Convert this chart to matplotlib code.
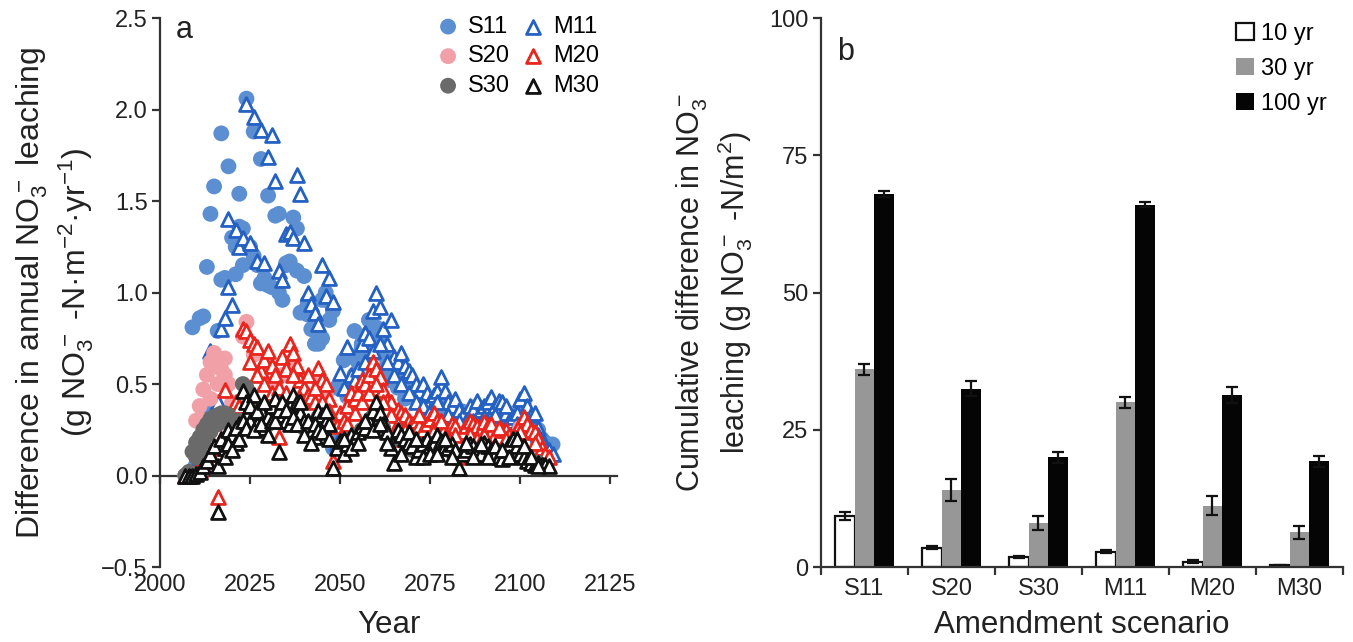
import matplotlib
matplotlib.use("Agg")
import matplotlib.pyplot as plt
import numpy as np

plt.rcParams["font.family"] = ["Liberation Sans", "DejaVu Sans"]
plt.rcParams["mathtext.default"] = "regular"

INK = "#222222"

# ---- panel a: annual difference, (year, value) ----
s11_year = [2007, 2008, 2009, 2009, 2010, 2011, 2012, 2013, 2014, 2014, 2015, 2015,
            2016, 2017, 2017, 2018, 2019, 2020, 2021, 2022, 2022, 2023, 2024, 2025,
            2026, 2027, 2028, 2029, 2030, 2030, 2031, 2032, 2033, 2034, 2035, 2036,
            2037, 2038, 2039, 2040, 2041, 2042, 2043, 2044, 2045, 2046, 2047, 2048,
            2049, 2050, 2051, 2052, 2053, 2054, 2055, 2056, 2057, 2058, 2059, 2060,
            2061, 2062, 2063, 2064, 2065, 2066, 2067, 2068, 2069, 2070, 2071, 2072,
            2073, 2074, 2075, 2076, 2077, 2078, 2079, 2080, 2081, 2082, 2083, 2084,
            2085, 2086, 2087, 2088, 2089, 2090, 2091, 2092, 2093, 2094, 2095, 2096,
            2097, 2098, 2099, 2100, 2101, 2102, 2103, 2104, 2105, 2106, 2107, 2108,
            2109,
            2021, 2023, 2026, 2028, 2033, 2035, 2038, 2040, 2041, 2043, 2045, 2047,
            2048, 2053, 2054, 2056, 2058, 2059, 2060, 2062, 2064, 2066, 2068, 2072,
            2076, 2080, 2084, 2088, 2092, 2096, 2100, 2104]
s11_val = [0.00, 0.01, 0.03, 0.81, 0.06, 0.86, 0.87, 1.14, 1.43, 0.35, 1.58, 0.36,
           0.79, 1.87, 1.07, 1.08, 1.69, 1.30, 1.10, 1.54, 1.36, 1.35, 2.06, 1.25,
           1.88, 1.15, 1.73, 1.08, 1.53, 1.04, 1.03, 1.42, 1.43, 0.96, 1.16, 1.17,
           1.41, 1.12, 0.89, 1.09, 0.88, 0.80, 0.72, 0.72, 0.96, 1.00, 0.85, 0.15,
           0.48, 0.20, 0.63, 0.43, 0.50, 0.79, 0.62, 0.70, 0.66, 0.78, 0.72, 0.81,
           0.75, 0.66, 0.60, 0.62, 0.55, 0.52, 0.56, 0.48, 0.46, 0.44, 0.42, 0.40,
           0.42, 0.38, 0.36, 0.35, 0.38, 0.40, 0.36, 0.34, 0.33, 0.36, 0.32, 0.30,
           0.28, 0.32, 0.35, 0.33, 0.30, 0.30, 0.34, 0.35, 0.31, 0.30, 0.28, 0.26,
           0.30, 0.22, 0.28, 0.36, 0.40, 0.32, 0.28, 0.27, 0.25, 0.20, 0.18, 0.16,
           0.17,
           1.25, 1.15, 1.20, 1.05, 1.00, 1.15, 1.35, 0.90, 0.95, 0.85, 0.75, 0.95,
           0.90, 0.65, 0.55, 0.72, 0.85, 0.68, 0.75, 0.58, 0.52, 0.48, 0.42, 0.45,
           0.32, 0.38, 0.35, 0.38, 0.33, 0.35, 0.30, 0.22]

m11_year = [2007, 2008, 2009, 2010, 2011, 2012, 2013, 2014, 2015, 2016, 2017, 2018,
            2019, 2019, 2020, 2021, 2022, 2023, 2024, 2025, 2026, 2027, 2028, 2029,
            2030, 2031, 2032, 2033, 2034, 2035, 2036, 2037, 2038, 2039, 2040, 2041,
            2042, 2043, 2044, 2045, 2046, 2047, 2048, 2049, 2050, 2051, 2052, 2053,
            2054, 2055, 2056, 2057, 2058, 2059, 2060, 2061, 2062, 2063, 2064, 2065,
            2066, 2067, 2068, 2069, 2070, 2071, 2072, 2073, 2074, 2075, 2076, 2077,
            2078, 2079, 2080, 2081, 2082, 2083, 2084, 2085, 2086, 2087, 2088, 2089,
            2090, 2091, 2092, 2093, 2094, 2095, 2096, 2097, 2098, 2099, 2100, 2101,
            2102, 2103, 2104, 2105, 2106, 2107, 2108, 2109,
            2053, 2055, 2057, 2059, 2061, 2063, 2065, 2067, 2069, 2071, 2073, 2075,
            2077, 2080, 2083, 2087, 2090, 2093, 2096, 2099, 2102, 2105]
m11_val = [0.00, 0.00, 0.02, 0.04, 0.10, 0.20, 0.30, 0.68, 0.36, 0.40, 0.80, 0.86,
           1.03, 1.40, 0.93, 1.34, 1.25, 1.30, 2.03, 1.27, 1.96, 1.17, 1.89, 1.16,
           1.74, 1.86, 1.61, 1.12, 1.07, 1.32, 1.33, 1.30, 1.64, 1.54, 1.27, 1.00,
           0.94, 0.89, 0.83, 1.15, 0.98, 1.08, 0.95, 0.18, 0.56, 0.48, 0.70, 0.55,
           0.52, 0.58, 0.72, 0.78, 0.75, 0.90, 1.00, 0.92, 0.80, 0.72, 0.85, 0.65,
           0.62, 0.67, 0.60, 0.57, 0.55, 0.50, 0.46, 0.50, 0.45, 0.41, 0.44, 0.46,
           0.54, 0.46, 0.40, 0.38, 0.42, 0.36, 0.33, 0.30, 0.38, 0.36, 0.41, 0.36,
           0.38, 0.40, 0.43, 0.38, 0.41, 0.40, 0.34, 0.30, 0.32, 0.34, 0.42, 0.45,
           0.38, 0.33, 0.34, 0.26, 0.20, 0.15, 0.14, 0.12,
           0.45, 0.42, 0.62, 0.68, 0.72, 0.62, 0.55, 0.50, 0.45, 0.40, 0.38, 0.35,
           0.40, 0.33, 0.30, 0.30, 0.32, 0.33, 0.38, 0.28, 0.30, 0.22]

s20_year = [2007, 2008, 2009, 2010, 2011, 2012, 2013, 2014, 2015, 2016, 2017, 2018,
            2019, 2020, 2021, 2023, 2024, 2026, 2028, 2030, 2032, 2034, 2036, 2038,
            2040, 2042, 2044, 2046, 2050, 2053, 2056, 2059, 2062, 2066, 2070, 2075,
            2080, 2085, 2090, 2095, 2100, 2105,
            2012, 2014, 2016, 2018]
s20_val = [0.00, 0.00, 0.01, 0.30, 0.38, 0.47, 0.55, 0.62, 0.67, 0.60, 0.58, 0.55,
           0.50, 0.40, 0.36, 0.76, 0.84, 0.66, 0.55, 0.60, 0.50, 0.55, 0.62, 0.55,
           0.44, 0.40, 0.52, 0.45, 0.30, 0.40, 0.48, 0.55, 0.42, 0.32, 0.26, 0.28,
           0.22, 0.24, 0.25, 0.22, 0.26, 0.16,
           0.30, 0.42, 0.50, 0.64]

m20_year = [2007, 2008, 2009, 2010, 2011, 2012, 2013, 2014, 2015, 2016, 2017, 2018,
            2019, 2020, 2021, 2022, 2023, 2024, 2025, 2026, 2027, 2028, 2029, 2030,
            2031, 2032, 2033, 2034, 2035, 2036, 2037, 2038, 2039, 2040, 2041, 2042,
            2043, 2044, 2045, 2046, 2047, 2048, 2049, 2050, 2051, 2052, 2053, 2054,
            2055, 2056, 2057, 2058, 2059, 2060, 2061, 2062, 2063, 2064, 2065, 2066,
            2067, 2068, 2069, 2070, 2071, 2072, 2073, 2074, 2075, 2076, 2077, 2078,
            2079, 2080, 2081, 2082, 2083, 2084, 2085, 2086, 2087, 2088, 2089, 2090,
            2091, 2092, 2093, 2094, 2095, 2096, 2097, 2098, 2099, 2100, 2101, 2102,
            2103, 2104, 2105, 2106, 2107, 2108,
            2025, 2027, 2029, 2031, 2033, 2035, 2037, 2039, 2041, 2043, 2045, 2047,
            2052, 2054, 2056, 2058, 2060, 2062, 2064, 2066, 2068, 2070, 2072, 2076,
            2078, 2080, 2082, 2086, 2088, 2090, 2092, 2094, 2096, 2100, 2104]
m20_val = [0.00, 0.00, 0.01, 0.02, 0.03, 0.05, 0.08, 0.12, 0.15, -0.12, 0.20, 0.47,
           0.33, 0.36, 0.40, 0.38, 0.80, 0.79, 0.74, 0.72, 0.70, 0.57, 0.63, 0.68,
           0.60, 0.55, 0.21, 0.65, 0.58, 0.72, 0.67, 0.60, 0.52, 0.48, 0.44, 0.43,
           0.40, 0.59, 0.52, 0.50, 0.42, 0.08, 0.27, 0.34, 0.30, 0.38, 0.45, 0.42,
           0.45, 0.52, 0.50, 0.55, 0.62, 0.58, 0.54, 0.47, 0.41, 0.40, 0.20, 0.36,
           0.34, 0.33, 0.30, 0.28, 0.30, 0.27, 0.25, 0.28, 0.31, 0.34, 0.30, 0.27,
           0.26, 0.24, 0.28, 0.27, 0.10, 0.24, 0.27, 0.30, 0.28, 0.27, 0.25, 0.29,
           0.27, 0.24, 0.22, 0.21, 0.25, 0.25, 0.22, 0.21, 0.25, 0.28, 0.32, 0.28,
           0.25, 0.24, 0.20, 0.15, 0.12, 0.10,
           0.62, 0.55, 0.50, 0.45, 0.48, 0.45, 0.55, 0.42, 0.55, 0.48, 0.40, 0.35,
           0.28, 0.34, 0.40, 0.45, 0.50, 0.40, 0.33, 0.28, 0.25, 0.22, 0.33, 0.25,
           0.30, 0.20, 0.22, 0.22, 0.20, 0.22, 0.28, 0.26, 0.20, 0.24, 0.18]

s30_year = [2007, 2008, 2009, 2010, 2011, 2012, 2013, 2014, 2015, 2016, 2017, 2018,
            2019, 2020, 2021, 2022, 2023, 2024, 2026, 2028, 2030, 2032, 2034, 2036,
            2038, 2040, 2042, 2044, 2046, 2050, 2053, 2056, 2059, 2062, 2066, 2070,
            2075, 2080, 2085, 2090, 2095, 2100, 2105,
            2010, 2011, 2012, 2013, 2014, 2016, 2018]
s30_val = [0.00, 0.02, 0.13, 0.18, 0.21, 0.25, 0.28, 0.31, 0.32, 0.33, 0.34, 0.34,
           0.33, 0.30, 0.28, 0.30, 0.50, 0.48, 0.38, 0.30, 0.28, 0.36, 0.30, 0.34,
           0.36, 0.26, 0.22, 0.32, 0.26, 0.16, 0.20, 0.25, 0.32, 0.26, 0.20, 0.14,
           0.15, 0.14, 0.12, 0.15, 0.10, 0.12, 0.07,
           0.10, 0.14, 0.18, 0.22, 0.24, 0.28, 0.30]

m30_year = [2007, 2008, 2009, 2010, 2011, 2012, 2013, 2014, 2015, 2016, 2016, 2017,
            2018, 2019, 2020, 2021, 2022, 2023, 2024, 2025, 2026, 2027, 2028, 2029,
            2030, 2031, 2032, 2033, 2034, 2035, 2036, 2037, 2038, 2039, 2040, 2041,
            2042, 2043, 2044, 2045, 2046, 2047, 2048, 2049, 2050, 2051, 2052, 2053,
            2054, 2055, 2056, 2057, 2058, 2059, 2060, 2061, 2062, 2063, 2064, 2065,
            2066, 2067, 2068, 2069, 2070, 2071, 2072, 2073, 2074, 2075, 2076, 2077,
            2078, 2079, 2080, 2081, 2082, 2083, 2084, 2085, 2086, 2087, 2088, 2089,
            2090, 2091, 2092, 2093, 2094, 2095, 2096, 2097, 2098, 2099, 2100, 2101,
            2102, 2103, 2104, 2105, 2106, 2107, 2108,
            2018, 2019, 2020, 2021, 2022, 2023, 2024, 2025, 2026, 2027, 2028, 2029,
            2030, 2031, 2032, 2033, 2034, 2035, 2036, 2037, 2038, 2039, 2040, 2041,
            2042, 2043, 2044, 2045, 2046, 2047, 2051, 2053, 2055, 2057, 2059, 2061,
            2063, 2067, 2069, 2071, 2073, 2075, 2077, 2079, 2081, 2085, 2087, 2089,
            2091, 2093, 2095, 2097, 2099, 2101, 2103, 2105]
m30_val = [0.00, 0.00, 0.00, 0.01, 0.02, 0.05, 0.08, 0.12, 0.16, -0.20, 0.05, 0.20,
           0.15, 0.25, 0.22, 0.18, 0.28, 0.46, 0.40, 0.30, 0.44, 0.28, 0.36, 0.26,
           0.32, 0.38, 0.42, 0.13, 0.33, 0.30, 0.38, 0.44, 0.40, 0.34, 0.30, 0.26,
           0.23, 0.21, 0.35, 0.33, 0.30, 0.28, 0.04, 0.15, 0.19, 0.12, 0.17, 0.22,
           0.20, 0.24, 0.27, 0.26, 0.30, 0.35, 0.40, 0.34, 0.28, 0.24, 0.15, 0.07,
           0.25, 0.22, 0.20, 0.18, 0.16, 0.10, 0.14, 0.17, 0.20, 0.16, 0.18, 0.22,
           0.19, 0.16, 0.15, 0.17, 0.14, 0.04, 0.12, 0.14, 0.17, 0.16, 0.14, 0.12,
           0.18, 0.16, 0.14, 0.12, 0.10, 0.09, 0.14, 0.17, 0.20, 0.16, 0.12, 0.10,
           0.08, 0.07, 0.06, 0.07, 0.06, 0.06, 0.05,
           0.10, 0.17, 0.14, 0.26, 0.20, 0.30, 0.26, 0.38, 0.25, 0.35, 0.28, 0.40,
           0.22, 0.30, 0.30, 0.36, 0.40, 0.36, 0.28, 0.32, 0.28, 0.40, 0.22, 0.30,
           0.18, 0.28, 0.25, 0.24, 0.35, 0.20, 0.20, 0.15, 0.18, 0.30, 0.25, 0.28,
           0.18, 0.12, 0.24, 0.20, 0.10, 0.12, 0.12, 0.20, 0.10, 0.18, 0.10, 0.17,
           0.10, 0.16, 0.14, 0.10, 0.20, 0.16, 0.10, 0.05]

# ---- panel b: cumulative difference ----
scenarios = ["S11", "S20", "S30", "M11", "M20", "M30"]
cum_10 = [9.3, 3.5, 1.8, 2.8, 1.0, 0.3]
cum_10_err = [0.8, 0.3, 0.2, 0.3, 0.2, 0.1]
cum_30 = [36.0, 14.0, 8.0, 30.0, 11.2, 6.3]
cum_30_err = [1.0, 2.0, 1.3, 1.0, 1.8, 1.2]
cum_100 = [68.0, 32.5, 20.0, 66.0, 31.3, 19.3]
cum_100_err = [0.5, 1.3, 1.0, 0.5, 1.5, 1.0]

TICK_FS = 17
fig = plt.figure(figsize=(13.53, 6.42), dpi=100)

# ================= panel a =================
ax = fig.add_axes([0.1183, 0.1168, 0.338, 0.855])
ax.set_xlim(2000, 2127)
ax.set_ylim(-0.5, 2.5)

circ_s = 130
tri_s = 100
ax.scatter(s11_year, s11_val, s=circ_s, color="#5b8fd2", edgecolors="none", zorder=2, label="S11")
ax.scatter(m11_year, m11_val, s=tri_s, marker="^", facecolors="white", edgecolors="#2461c2",
           linewidths=2.0, zorder=3, label="M11")
ax.scatter(s20_year, s20_val, s=circ_s, color="#f2a0a8", edgecolors="none", zorder=4, label="S20")
ax.scatter(m20_year, m20_val, s=tri_s, marker="^", facecolors="white", edgecolors="#e8261e",
           linewidths=2.0, zorder=5, label="M20")
ax.scatter(s30_year, s30_val, s=circ_s, color="#6a6a6a", edgecolors="none", zorder=6, label="S30")
ax.scatter(m30_year, m30_val, s=tri_s, marker="^", facecolors="white", edgecolors="#111111",
           linewidths=2.0, zorder=7, label="M30")

for sp in ["top", "right"]:
    ax.spines[sp].set_visible(False)
ax.spines["left"].set_linewidth(1.6)
ax.spines["left"].set_color("#333333")
ax.spines["bottom"].set_position(("data", 0))
ax.spines["bottom"].set_linewidth(1.6)
ax.spines["bottom"].set_color("#333333")
ax.spines["bottom"].set_zorder(1)
ax.set_yticks([-0.5, 0, 0.5, 1.0, 1.5, 2.0, 2.5])
ax.set_yticklabels(["\u22120.5", "0.0", "0.5", "1.0", "1.5", "2.0", "2.5"])
ax.set_xticks([2000, 2025, 2050, 2075, 2100, 2125])
ax.tick_params(axis="x", direction="out", length=6, width=1.6, color="#333333", labelbottom=False)
ax.tick_params(axis="y", direction="out", length=6, width=1.6, color="#333333",
               labelsize=TICK_FS, labelcolor=INK, pad=3)

sec = ax.secondary_xaxis(0.0)
sec.set_xticks([2000, 2025, 2050, 2075, 2100, 2125])
sec.spines["bottom"].set_visible(False)
sec.tick_params(length=0, labelsize=TICK_FS, labelcolor=INK, pad=5)
sec.set_xlabel("Year", fontsize=22.5, color=INK, labelpad=10)

ax.set_ylabel("Difference in annual NO$_3^-$ leaching\n(g NO$_3^-$ -N\u00b7m$^{-2}$\u00b7yr$^{-1}$)",
              fontsize=23, color=INK, linespacing=1.2, labelpad=4)

h, l = ax.get_legend_handles_labels()
order = [0, 2, 4, 1, 3, 5]
ax.legend([h[i] for i in order], [l[i] for i in order], ncol=2, loc="upper right",
          bbox_to_anchor=(0.99, 1.03), frameon=False, fontsize=TICK_FS, handlelength=1.0,
          handletextpad=0.35, columnspacing=0.45, labelspacing=0.32, borderaxespad=0.2)
ax.text(0.035, 1.005, "a", transform=ax.transAxes, fontsize=22, color=INK, va="top")

# ================= panel b =================
bx = fig.add_axes([0.6068, 0.1168, 0.3858, 0.855])
x = np.arange(len(scenarios))
w = 0.225
ekw = dict(elinewidth=1.6, capthick=1.6, ecolor="#111111")
bx.bar(x - w, cum_10, w, color="white", edgecolor="#111111", linewidth=1.6,
       yerr=cum_10_err, capsize=4, error_kw=ekw, label="10 yr", zorder=2)
bx.bar(x, cum_30, w, color="#979797", edgecolor="none",
       yerr=cum_30_err, capsize=4, error_kw=ekw, label="30 yr", zorder=2)
bx.bar(x + w, cum_100, w, color="#050505", edgecolor="none",
       yerr=cum_100_err, capsize=4, error_kw=ekw, label="100 yr", zorder=2)

bx.set_xlim(-0.5, len(scenarios) - 0.5)
bx.set_ylim(0, 100)
for sp in ["top", "right"]:
    bx.spines[sp].set_visible(False)
for sp in ["left", "bottom"]:
    bx.spines[sp].set_linewidth(1.6)
    bx.spines[sp].set_color("#333333")
bx.set_yticks([0, 25, 50, 75, 100])
bx.set_xticks(x)
bx.set_xticklabels(scenarios)
bx.set_xticks(np.arange(len(scenarios) + 1) - 0.5, minor=True)
bx.tick_params(axis="x", which="major", length=0, labelsize=TICK_FS, labelcolor=INK, pad=8)
bx.tick_params(axis="x", which="minor", direction="out", length=6, width=1.6, color="#333333")
bx.tick_params(axis="y", direction="out", length=6, width=1.6, color="#333333",
               labelsize=TICK_FS, labelcolor=INK, pad=3)
bx.set_xlabel("Amendment scenario", fontsize=22.5, color=INK, labelpad=7)
bx.set_ylabel("Cumulative difference in NO$_3^-$\nleaching (g NO$_3^-$ -N/m$^2$)",
              fontsize=22, color=INK, linespacing=1.2, labelpad=10)
bx.legend(loc="upper right", bbox_to_anchor=(1.01, 1.03), frameon=False, fontsize=TICK_FS,
          handlelength=0.75, handleheight=0.75, handletextpad=0.3, labelspacing=0.55)
bx.text(0.03, 0.965, "b", transform=bx.transAxes, fontsize=22, color=INK, va="top")

fig.savefig("out.png", dpi=100, facecolor="white")
